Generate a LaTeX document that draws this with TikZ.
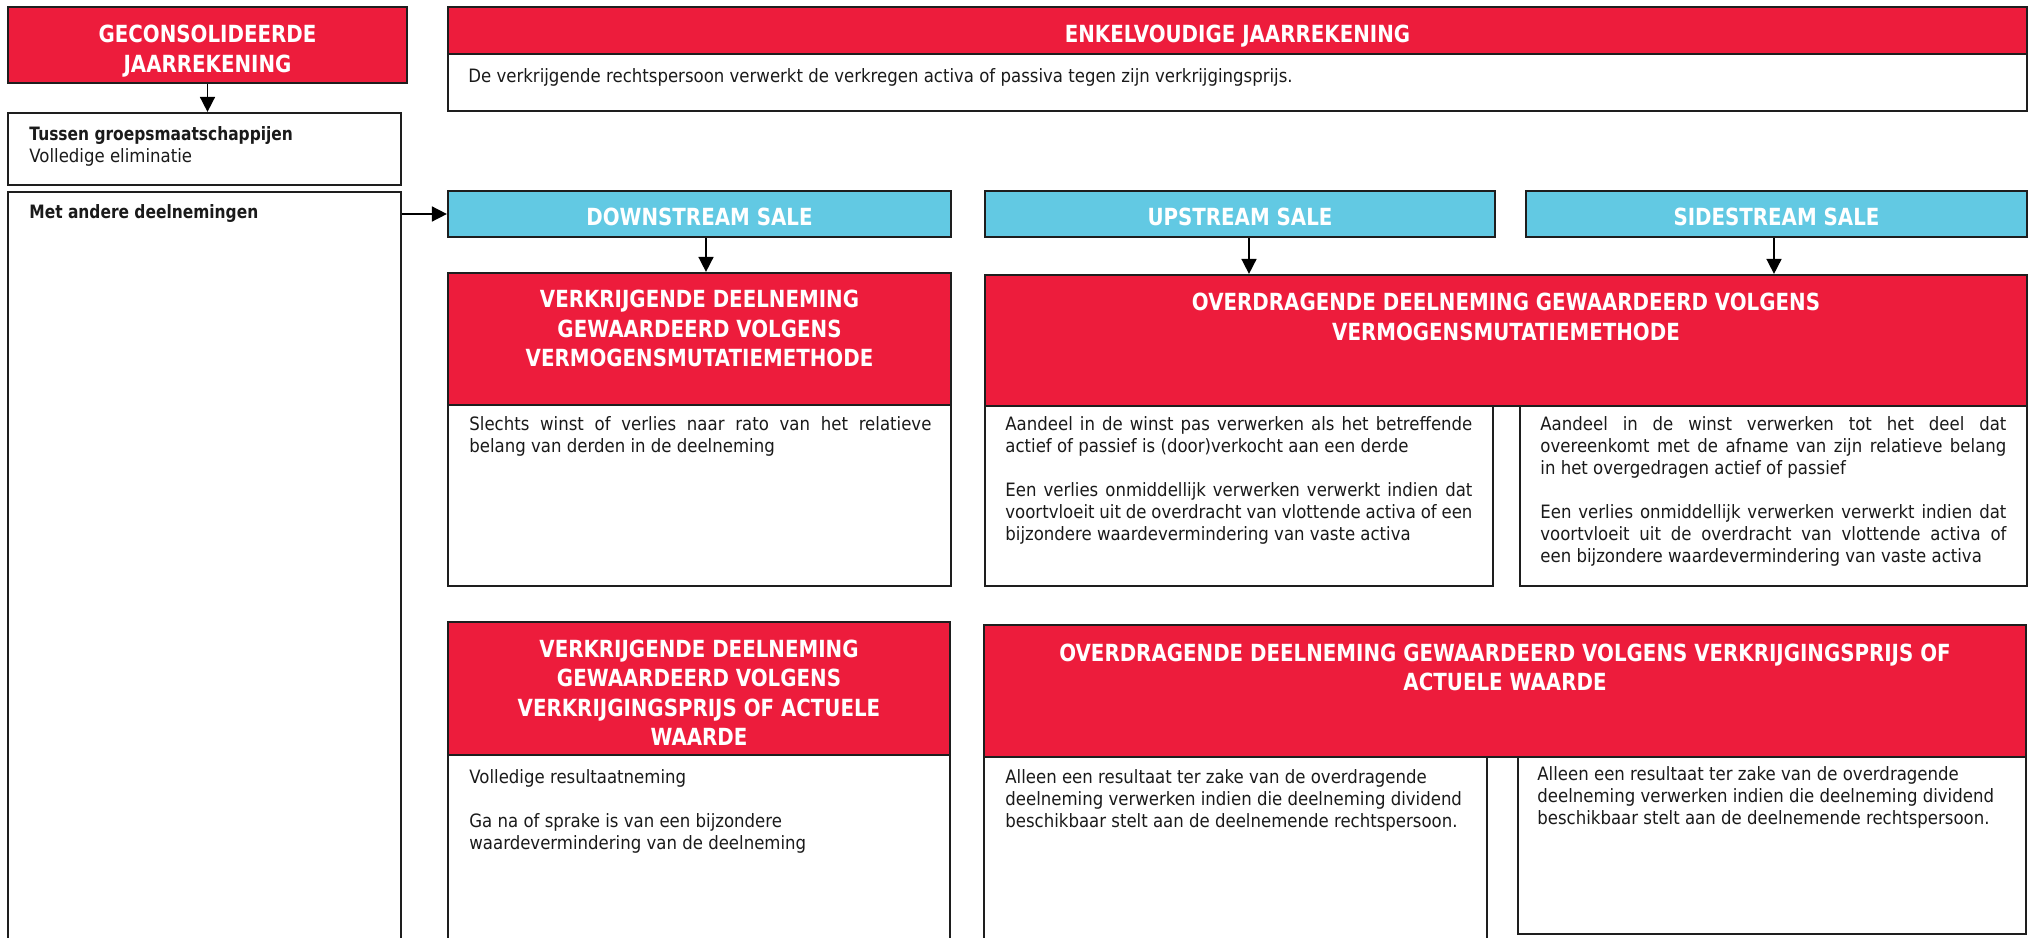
\documentclass[tikz,border=0pt]{standalone}
\usepackage{fontspec}
\setmainfont{DejaVu Sans}
\newfontfamily\bodyf{DejaVu Sans}[FakeStretch=0.9]
\newfontfamily\ttlf{DejaVu Sans}[FakeStretch=0.84]
\usetikzlibrary{fit,arrows.meta}
\definecolor{hred}{HTML}{ED1C3C}
\definecolor{hblue}{HTML}{62C9E3}
\definecolor{edge}{HTML}{1E1E1E}
\definecolor{txt}{HTML}{1A1A1A}
\newcommand\jline[2]{\makebox[#1][s]{#2}}
\begin{document}
\begin{tikzpicture}[x=0.5pt,y=-0.5pt,
  frame/.style={draw=edge,line width=1.1pt,inner sep=0pt},
  redbox/.style={frame,fill=hred},
  bluebox/.style={frame,fill=hblue},
  whitebox/.style={frame,fill=white},
  ttl/.style={text=white,font=\ttlf\bfseries\fontsize{11.8}{14.75}\selectfont,align=center,inner sep=0pt},
  body/.style={text=txt,font=\bodyf\fontsize{9.2}{11}\selectfont,inner sep=0pt,anchor=north west,align=left},
  bodyb/.style={body,font=\ttlf\bfseries\fontsize{9.2}{11}\selectfont},
  arr/.style={draw=black,line width=0.8pt,-{Triangle[length=7.5pt,width=7.5pt]}}]
\useasboundingbox (0,0) rectangle (2034,937);
\begin{scope}
\clip (0,0) rectangle (2034,937);
% boxes
\node[redbox,fit={(8,7)(407,83)}] (geco) {};
\node[whitebox,fit={(8,113)(401,185)}] (tussen) {};
\node[whitebox,fit={(8,192)(401,950)}] (met) {};
\node[redbox,fit={(448,7)(2027,54)}] (enkh) {};
\node[whitebox,fit={(448,54)(2027,111)}] (enkb) {};
\node[bluebox,fit={(448,191)(951,237)}] (down) {};
\node[bluebox,fit={(985,191)(1495,237)}] (up) {};
\node[bluebox,fit={(1526,191)(2027,237)}] (side) {};
\node[redbox,fit={(448,273)(951,405)}] (vr1) {};
\node[whitebox,fit={(448,405)(951,586)}] (vr1b) {};
\node[redbox,fit={(985,275)(2027,406)}] (ov1) {};
\node[whitebox,fit={(985,406)(1493,586)}] (ov1u) {};
\node[whitebox,fit={(1520,406)(2027,586)}] (ov1s) {};
\node[redbox,fit={(448,622)(950,755)}] (vr2) {};
\node[whitebox,fit={(448,755)(950,950)}] (vr2b) {};
\node[redbox,fit={(984,625)(2026,757)}] (ov2) {};
\node[whitebox,fit={(984,757)(1487,950)}] (ov2u) {};
\node[whitebox,fit={(1518,757)(2026,934)}] (ov2s) {};
% titles
\node[ttl,anchor=north] (gecot) at (207.5,25) {GECONSOLIDEERDE\\JAARREKENING};
\node[ttl,anchor=north] (enkt) at (1237.5,25) {ENKELVOUDIGE JAARREKENING};
\node[ttl,anchor=north] (downt) at (699.5,208) {DOWNSTREAM SALE};
\node[ttl,anchor=north] (upt) at (1240,208) {UPSTREAM SALE};
\node[ttl,anchor=north] (sidet) at (1776.5,208) {SIDESTREAM SALE};
\node[ttl,anchor=north] (vr1t) at (699.5,290) {VERKRIJGENDE DEELNEMING\\GEWAARDEERD VOLGENS\\VERMOGENSMUTATIEMETHODE};
\node[ttl,anchor=north] (ov1t) at (1506,293) {OVERDRAGENDE DEELNEMING GEWAARDEERD VOLGENS\\VERMOGENSMUTATIEMETHODE};
\node[ttl,anchor=north] (vr2t) at (699,639.5) {VERKRIJGENDE DEELNEMING\\GEWAARDEERD VOLGENS\\VERKRIJGINGSPRIJS OF ACTUELE\\WAARDE};
\node[ttl,anchor=north] (ov2t) at (1505,643.5) {OVERDRAGENDE DEELNEMING GEWAARDEERD VOLGENS VERKRIJGINGSPRIJS OF\\ACTUELE WAARDE};
% body texts
\node[body] (tust) at (29,126) {{\ttlf\bfseries Tussen groepsmaatschappijen}\\Volledige eliminatie};
\node[bodyb] (mett) at (29,204) {Met andere deelnemingen};
\node[body] (enkt2) at (468,68) {De verkrijgende rechtspersoon verwerkt de verkregen activa of passiva tegen zijn verkrijgingsprijs.};
\node[body] (vr1txt) at (469,416) {\jline{231pt}{Slechts winst of verlies naar rato van het relatieve}\\belang van derden in de deelneming};
\node[body] (ov1utxt) at (1005,416) {\jline{233.5pt}{Aandeel in de winst pas verwerken als het betreffende}\\actief of passief is (door)verkocht aan een derde\\[11pt]\jline{233.5pt}{Een verlies onmiddellijk verwerken verwerkt indien dat}\\\jline{233.5pt}{voortvloeit uit de overdracht van vlottende activa of een}\\bijzondere waardevermindering van vaste activa};
\node[body] (ov1stxt) at (1540,416) {\jline{233pt}{Aandeel in de winst verwerken tot het deel dat}\\\jline{233pt}{overeenkomt met de afname van zijn relatieve belang}\\in het overgedragen actief of passief\\[11pt]\jline{233pt}{Een verlies onmiddellijk verwerken verwerkt indien dat}\\\jline{233pt}{voortvloeit uit de overdracht van vlottende activa of}\\een bijzondere waardevermindering van vaste activa};
\node[body] (vr2txt) at (469,769) {Volledige resultaatneming\\[11pt]Ga na of sprake is van een bijzondere\\waardevermindering van de deelneming};
\node[body] (ov2utxt) at (1005,769) {Alleen een resultaat ter zake van de overdragende\\deelneming verwerken indien die deelneming dividend\\beschikbaar stelt aan de deelnemende rechtspersoon.};
\node[body] (ov2stxt) at (1537,766) {Alleen een resultaat ter zake van de overdragende\\deelneming verwerken indien die deelneming dividend\\beschikbaar stelt aan de deelnemende rechtspersoon.};
% connectors
\draw[arr] (geco.south) -- (geco.south |- tussen.north);
\draw[arr] (down.west -| met.east) -- (down.west);
\draw[arr] ([xshift=3.25pt]down.south) -- ([xshift=3.25pt]down.south |- vr1.north);
\draw[arr] ([xshift=4.5pt]up.south) -- ([xshift=4.5pt]up.south |- ov1.north);
\draw[arr] ([xshift=-1.25pt]side.south) -- ([xshift=-1.25pt]side.south |- ov1.north);
\end{scope}
\end{tikzpicture}
\end{document}
